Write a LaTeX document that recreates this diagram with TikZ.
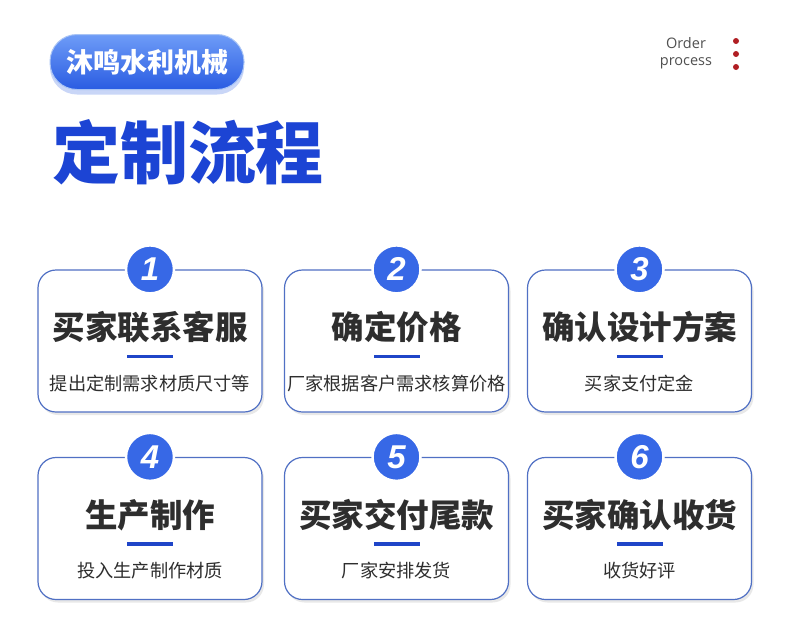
\documentclass[tikz,border=0pt]{standalone}
\usepackage{fontspec}
\setmainfont{Liberation Sans}
\newfontfamily\cjkfont{Noto Sans CJK SC}
\newfontfamily\latinfont{Open Sans}
\usetikzlibrary{shadows,positioning,calc}

\tikzset{
  stepbox/.style={draw=boxBorder, line width=1.2pt, rounded corners=18pt, fill=white,
    minimum width=224pt, minimum height=142pt, inner sep=0pt,
    drop shadow={shadow xshift=2pt, shadow yshift=-3pt, opacity=0.18, fill=gray}},
  numdisc/.style={circle, fill=discBlue, draw=white, line width=2.5pt, minimum size=48pt,
    inner sep=0pt, text=white, font=\bfseries\itshape\fontsize{33}{33}\selectfont},
  steptitle/.style={text=textDark, inner sep=0pt, font=\cjkfont\bfseries\fontsize{32.5}{32.5}\selectfont},
  stepnote/.style={text=textDark, inner sep=0pt, font=\cjkfont\fontsize{18.2}{18.2}\selectfont},
  accentbar/.style={fill=barBlue, minimum width=46pt, minimum height=3.5pt, inner sep=0pt},
  brandpill/.style={rounded corners=27pt, top color=pillTop, bottom color=pillBottom,
    draw=pillEdge, line width=1pt, minimum width=194pt, minimum height=55pt, inner sep=0pt,
    text=white, font=\cjkfont\bfseries\fontsize{27}{27}\selectfont,
    drop shadow={shadow xshift=0pt, shadow yshift=-5pt, opacity=0.25, fill=pillBottom}},
  reddot/.style={circle, fill=dotRed, minimum size=6pt, inner sep=0pt}
}

\begin{document}
\begin{tikzpicture}[x=1pt, y=-1pt]
    \definecolor{boxBorder}{HTML}{5070C4}
    \definecolor{discBlue}{HTML}{3768E6}
    \definecolor{barBlue}{HTML}{1F45C8}
    \definecolor{textDark}{HTML}{2E2E2E}
    \definecolor{titleBlue}{HTML}{1C44D4}
    \definecolor{pillTop}{HTML}{6E9CF7}
    \definecolor{pillBottom}{HTML}{2A5CE2}
    \definecolor{pillEdge}{HTML}{A9C4F5}
    \definecolor{dotRed}{HTML}{B01E23}
    \definecolor{greyText}{HTML}{505050}

    % Canvas
    \fill[white] (0,0) rectangle (790,643);
    \useasboundingbox (0,0) rectangle (790,643);

    % Header
    \node[brandpill] (brand) at (147,62) {沐鸣水利机械};
    \node[text=titleBlue, inner sep=0pt, font=\cjkfont\bfseries\fontsize{68}{68}\selectfont] (heading) at (188,152) {定制流程};
    \node[text=greyText, align=center, inner sep=0pt, font=\latinfont\fontsize{14.5}{17}\selectfont] (order) at (686,53) {Order\\process};
    \foreach \k/\y in {1/41,2/54,3/67}
        \node[reddot] (dot\k) at (736,\y) {};

    % Process steps
    \foreach \i/\x/\y/\head/\note in {
        1/150/341/买家联系客服/提出定制需求材质尺寸等,
        2/396.5/341/确定价格/厂家根据客户需求核算价格,
        3/639.5/341/确认设计方案/买家支付定金,
        4/150/528.5/生产制作/投入生产制作材质,
        5/396.5/528.5/买家交付尾款/厂家安排发货,
        6/639.5/528.5/买家确认收货/收货好评}
    {
        \node[stepbox] (box\i) at (\x,\y) {};
        \node[numdisc] (num\i) at (box\i.north) {\i};
        \node[steptitle] (title\i) at ($(box\i.north)+(0,58)$) {\head};
        \node[accentbar] (bar\i) at ($(box\i.north)+(0,87)$) {};
        \node[stepnote] (note\i) at ($(box\i.north)+(0,114)$) {\note};
    }
\end{tikzpicture}
\end{document}
